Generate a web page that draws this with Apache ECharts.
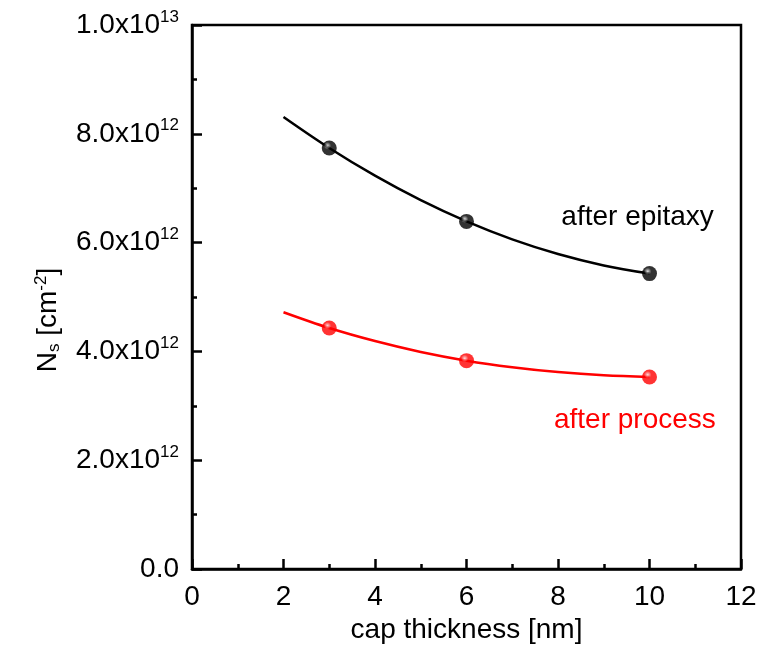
<!DOCTYPE html>
<html>
<head>
<meta charset="utf-8">
<script src="https://cdn.jsdelivr.net/npm/echarts@6/dist/echarts.min.js"></script>
<style>
  html, body { margin: 0; padding: 0; background: #fff; }
  #chart { width: 773px; height: 649px; }
</style>
</head>
<body>
<div id="chart"></div>
<script>
// Measured sheet carrier density vs. cap layer thickness
const capThickness = [3, 6, 10];
const nsEpitaxy = [7.74e12, 6.39e12, 5.43e12];
const nsProcess = [4.43e12, 3.83e12, 3.53e12];

// Fitted trend curves
const fitX = [2, 3, 4, 5, 6, 7, 8, 9, 10];
const fitEpitaxy = [8.31e12, 7.74e12, 7.23e12, 6.78e12, 6.39e12, 6.06e12, 5.79e12, 5.58e12, 5.43e12];
const fitProcess = [4.72e12, 4.43e12, 4.19e12, 3.99e12, 3.83e12, 3.71e12, 3.62e12, 3.56e12, 3.53e12];

// Axis ticks
const xTicks = [0, 2, 4, 6, 8, 10, 12];
const yTicks = [0, 2e12, 4e12, 6e12, 8e12, 1e13];

// Annotation texts and anchor coordinates
const labelEpitaxy = { text: 'after epitaxy', x: 9.74, y: 6.46e12 };
const labelProcess = { text: 'after process', x: 9.68, y: 2.73e12 };

const FONT = '"Liberation Sans", Arial, sans-serif';

function sphere(base, light) {
  return {
    type: 'radial', x: 0.38, y: 0.35, r: 0.7,
    colorStops: [
      { offset: 0, color: light },
      { offset: 0.35, color: base },
      { offset: 1, color: base }
    ]
  };
}

function sciLabel(v) {
  if (v === 0) return '{b|0.0}';
  const e = Math.floor(Math.log10(v) + 1e-9);
  const m = v / Math.pow(10, e);
  return '{b|' + m.toFixed(1) + 'x10}{s|' + e + '}';
}

const chart = echarts.init(document.getElementById('chart'), null, { renderer: 'canvas' });

const option = {
  backgroundColor: '#fff',
  animation: false,
  grid: {
    left: 192, right: 32, top: 25, bottom: 79,
    show: true, borderColor: '#000', borderWidth: 2.5, backgroundColor: 'transparent'
  },
  xAxis: {
    type: 'value',
    min: xTicks[0], max: xTicks[xTicks.length - 1], interval: 2,
    name: 'cap thickness [nm]',
    nameLocation: 'middle', nameGap: 47,
    nameTextStyle: { fontFamily: FONT, fontSize: 28, color: '#000' },
    axisLine: { show: true, onZero: false, lineStyle: { color: '#000', width: 2.5 } },
    axisTick: { show: true, inside: true, length: 10, lineStyle: { color: '#000', width: 2.5 } },
    minorTick: { show: true, splitNumber: 2, length: 5, lineStyle: { color: '#000', width: 2.5 } },
    splitLine: { show: false },
    axisLabel: {
      margin: 14, fontFamily: FONT, fontSize: 28, color: '#000',
      customValues: xTicks, formatter: v => String(v)
    }
  },
  yAxis: {
    type: 'value',
    min: yTicks[0], max: yTicks[yTicks.length - 1], interval: 2e12,
    name: 'N{sub|s} [cm{sup|-2}]',
    nameLocation: 'middle', nameGap: 129, nameRotate: 90,
    nameTextStyle: {
      fontFamily: FONT, fontSize: 28, color: '#000',
      padding: [0, 46, 0, 0],
      rich: {
        sub: { fontFamily: FONT, fontSize: 17, color: '#000', padding: [13, 0, 0, 0] },
        sup: { fontFamily: FONT, fontSize: 17, color: '#000', padding: [0, 0, 13, 0] }
      }
    },
    axisLine: { show: true, onZero: false, lineStyle: { color: '#000', width: 2.5 } },
    axisTick: { show: true, inside: true, length: 10, lineStyle: { color: '#000', width: 2.5 } },
    minorTick: { show: true, splitNumber: 2, length: 5, lineStyle: { color: '#000', width: 2.5 } },
    splitLine: { show: false },
    axisLabel: {
      margin: 13, color: '#000',
      formatter: sciLabel,
      rich: {
        b: { fontFamily: FONT, fontSize: 28, color: '#000' },
        s: { fontFamily: FONT, fontSize: 17, color: '#000', padding: [0, 0, 16, 0] }
      }
    }
  },
  series: [
    {
      name: 'fit epitaxy', type: 'line', smooth: 0.35, showSymbol: false, silent: true,
      data: fitX.map((x, i) => [x, fitEpitaxy[i]]),
      lineStyle: { color: '#000', width: 2.5 }, z: 2
    },
    {
      name: 'fit process', type: 'line', smooth: 0.35, showSymbol: false, silent: true,
      data: fitX.map((x, i) => [x, fitProcess[i]]),
      lineStyle: { color: '#f00', width: 2.5 }, z: 2
    },
    {
      name: 'after epitaxy', type: 'scatter', symbol: 'circle', symbolSize: 15,
      data: capThickness.map((x, i) => [x, nsEpitaxy[i]]),
      itemStyle: { color: sphere('#000', '#d8d8d8') }, z: 3
    },
    {
      name: 'after process', type: 'scatter', symbol: 'circle', symbolSize: 15,
      data: capThickness.map((x, i) => [x, nsProcess[i]]),
      itemStyle: { color: sphere('#f00', '#ffd0d0') }, z: 3
    }
  ]
};

chart.setOption(option);

// Place the curve annotations at data coordinates
function annotation(lbl, color) {
  const p = chart.convertToPixel({ gridIndex: 0 }, [lbl.x, lbl.y]);
  return {
    type: 'text', x: p[0], y: p[1], silent: true,
    style: {
      text: lbl.text, fill: color, font: '28px ' + FONT,
      align: 'center', verticalAlign: 'middle'
    }
  };
}
chart.setOption({
  graphic: [annotation(labelEpitaxy, '#000'), annotation(labelProcess, '#f00')]
});
</script>
</body>
</html>
